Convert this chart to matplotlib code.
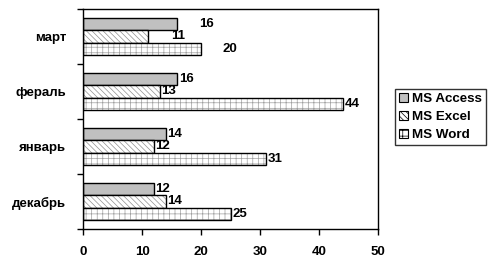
import numpy as np
import matplotlib
matplotlib.use("Agg")
import matplotlib.pyplot as plt

plt.rcParams['font.family'] = ['Liberation Sans', 'DejaVu Sans']
plt.rcParams['hatch.linewidth'] = 0.5

# data (bottom to top)
months = ['декабрь', 'январь', 'фераль', 'март']
access = [12, 14, 16, 16]
excel = [14, 12, 13, 11]
word = [25, 31, 44, 20]
series_names = ['MS Access', 'MS Excel', 'MS Word']

fig = plt.figure(figsize=(4.92, 2.71), dpi=100)
ax = fig.add_axes([0.1687, 0.155, 0.5996, 0.812])

y = np.arange(len(months))
h = 0.225
offs = [h, 0, -h]
fills = ['#c0c0c0', 'white', 'white']
hatches = [None, '\\\\\\\\\\\\', '+++']
hcolors = ['#c0c0c0', '#909090', '#a0a0a0']
series = [access, excel, word]

for vals, off, fc, hat, hc, name in zip(series, offs, fills, hatches, hcolors, series_names):
    ax.barh(y + off, vals, height=h, color=fc, hatch=hat, edgecolor=hc, linewidth=0)
    ax.barh(y + off, vals, height=h, facecolor='none', edgecolor='black', linewidth=1)
    for yi, v in zip(y, vals):
        # labels for the top group sit further right in the original
        if yi == len(months) - 1:
            extra = 4.0 if name == 'MS Excel' else 3.6
        else:
            extra = 0.3
        ax.text(v + extra, yi + off, str(v), va='center', ha='left', fontsize=9.5, fontweight='bold')

ax.set_xlim(0, 50)
ax.set_ylim(-0.5, len(months) - 0.5)
ax.set_xticks(range(0, 51, 10))
ax.set_yticks(y)
ax.set_yticklabels(months)
ax.set_yticks(np.arange(-0.5, len(months), 1), minor=True)
ax.tick_params(axis='y', which='major', length=0, pad=12, labelsize=9.5)
ax.tick_params(axis='y', which='minor', length=4, width=1, direction='out')
ax.tick_params(axis='x', length=4, width=1, direction='out', pad=8, labelsize=9.5)
for lab in ax.get_xticklabels() + ax.get_yticklabels():
    lab.set_fontweight('bold')
for sp in ax.spines.values():
    sp.set_linewidth(1)

# legend with framed swatches
leg_handles = []
for fc, hat, hc in zip(fills, hatches, hcolors):
    leg_handles.append(plt.Rectangle((0, 0), 1, 1, facecolor=fc, hatch=hat, edgecolor='black', linewidth=0.8))
leg = fig.legend(leg_handles, series_names, loc='upper left', bbox_to_anchor=(0.803, 0.672),
                 frameon=True, fancybox=False, edgecolor='black', fontsize=9.6,
                 handlelength=0.65, handleheight=0.65, handletextpad=0.3, borderpad=0.3,
                 labelspacing=0.45, borderaxespad=0)
leg.get_frame().set_linewidth(1)
for t in leg.get_texts():
    t.set_fontweight('bold')

fig.savefig('out.png', dpi=100)
